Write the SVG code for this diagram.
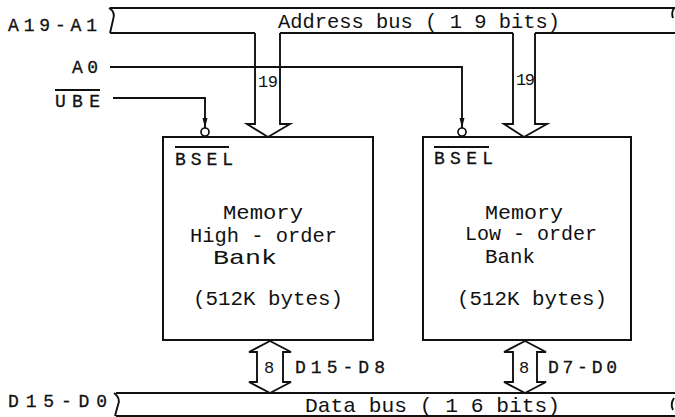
<svg xmlns="http://www.w3.org/2000/svg" width="675" height="417" viewBox="0 0 675 417">
  <style>
    .ln { fill: none; stroke: #111; stroke-width: 1.9; stroke-linejoin: miter; }
    .bub { fill: #fff; stroke: #111; stroke-width: 1.7; }
    .hol { fill: #fff; stroke: #111; stroke-width: 1.9; stroke-linejoin: miter; }
    .box { fill: #fff; stroke: #111; stroke-width: 2; }
    .t { font-family: "Liberation Mono", "Courier New", monospace; font-size: 21px; fill: #111; }
    .lbl { font-family: "Liberation Mono", "Courier New", monospace; font-size: 18px; fill: #111; stroke: #111; stroke-width: 0.3; }
    .sm { font-family: "Liberation Mono", "Courier New", monospace; font-size: 17px; fill: #111; }
  </style>
  <defs>
    <marker id="tip" viewBox="0 0 10 6" refX="10" refY="3" markerWidth="10" markerHeight="6" markerUnits="userSpaceOnUse" orient="auto">
      <path d="M0,0.5 L10,3 L0,5.5 Z" fill="#111"/>
    </marker>
  </defs>
  <rect width="675" height="417" fill="#fff"/>

  <!-- address bus -->
  <g id="address-bus">
    <path class="ln" d="M110,8 L675,8"/>
    <path class="ln" d="M110,33 L255,33 M280,33 L513,33 M535,33 L675,33"/>
    <path class="ln" d="M109,8 Q116,12 113,20 Q111,29 110,33"/>
    <path class="ln" d="M674,8 Q671,13 673,18"/>
    <text class="lbl" x="8" y="31" textLength="89" lengthAdjust="spacing">A19-A1</text>
    <text class="t" x="278" y="28" textLength="282" lengthAdjust="spacingAndGlyphs">Address bus ( 1 9 bits)</text>
  </g>

  <!-- data bus -->
  <g id="data-bus">
    <path class="ln" d="M116,393 L675,393"/>
    <path class="ln" d="M116,416 L675,416"/>
    <path class="ln" d="M114,393 Q121,398 118,405 Q116,412 115,416"/>
    <path class="ln" d="M674,398 Q670,404 673,410"/>
    <text class="lbl" x="8" y="407" textLength="99" lengthAdjust="spacing">D15-D0</text>
    <text class="t" x="305" y="412" textLength="255" lengthAdjust="spacingAndGlyphs">Data bus ( 1 6 bits)</text>
  </g>

  <!-- control inputs -->
  <g id="inputs">
    <text class="lbl" x="72" y="73" textLength="26" lengthAdjust="spacing">A0</text>
    <text class="lbl" x="55" y="107" textLength="45" lengthAdjust="spacing">UBE</text>
    <line class="ln" x1="55" y1="90" x2="100" y2="90"/>
  </g>

  <!-- high-order bank -->
  <g id="bank-high">
    <rect class="box" x="163" y="137" width="210" height="203"/>
    <text class="lbl" x="175" y="165" textLength="58" lengthAdjust="spacing">BSEL</text>
    <line class="ln" x1="175" y1="147" x2="229" y2="147"/>
    <text class="t" x="223" y="219" textLength="80" lengthAdjust="spacingAndGlyphs">Memory</text>
    <text class="t" x="190" y="242" textLength="147" lengthAdjust="spacingAndGlyphs">High - order</text>
    <text class="t" x="213" y="264" textLength="64" lengthAdjust="spacingAndGlyphs">Bank</text>
    <text class="t" x="193" y="305" textLength="150" lengthAdjust="spacingAndGlyphs">(512K bytes)</text>
  </g>

  <!-- low-order bank -->
  <g id="bank-low">
    <rect class="box" x="423" y="137" width="208" height="203"/>
    <text class="lbl" x="434" y="164" textLength="59" lengthAdjust="spacing">BSEL</text>
    <line class="ln" x1="434" y1="147" x2="489" y2="147"/>
    <text class="t" x="485" y="219" textLength="78" lengthAdjust="spacingAndGlyphs">Memory</text>
    <text class="t" x="465" y="240" textLength="132" lengthAdjust="spacingAndGlyphs">Low - order</text>
    <text class="t" x="485" y="263" textLength="50" lengthAdjust="spacingAndGlyphs">Bank</text>
    <text class="t" x="457" y="305" textLength="150" lengthAdjust="spacingAndGlyphs">(512K bytes)</text>
  </g>

  <!-- connectors -->
  <g id="connectors">
    <!-- address bus into each bank -->
    <path class="hol" d="M255,33 L255,124 L247,124 L268,137 L290,124 L280,124 L280,33"/>
    <path class="hol" d="M513,33 L513,124 L504,124 L524,137 L547,124 L535,124 L535,33"/>
    <text class="sm" x="258" y="87" textLength="20" lengthAdjust="spacing">19</text>
    <text class="sm" x="516" y="85" textLength="19" lengthAdjust="spacing">19</text>

    <!-- A0 to low-order bank select -->
    <path class="ln" d="M110,67 L462,67 L462,128" marker-end="url(#tip)"/>
    <circle class="bub" cx="462" cy="132" r="4"/>
    <!-- UBE to high-order bank select -->
    <path class="ln" d="M113,98 L205,98 L205,128" marker-end="url(#tip)"/>
    <circle class="bub" cx="205" cy="132" r="4"/>

    <!-- bidirectional data paths -->
    <path class="hol" d="M270,341 L291,352 L283,352 L283,382 L291,382 L270,393 L249,382 L257,382 L257,352 L249,352 Z"/>
    <path class="hol" d="M525,341 L546,352 L537,352 L537,382 L546,382 L525,393 L504,382 L513,382 L513,352 L504,352 Z"/>
    <text class="sm" x="264" y="373">8</text>
    <text class="sm" x="519" y="373">8</text>
    <text class="lbl" x="295" y="373" textLength="90" lengthAdjust="spacing">D15-D8</text>
    <text class="lbl" x="548" y="373" textLength="69" lengthAdjust="spacing">D7-D0</text>
  </g>
</svg>
